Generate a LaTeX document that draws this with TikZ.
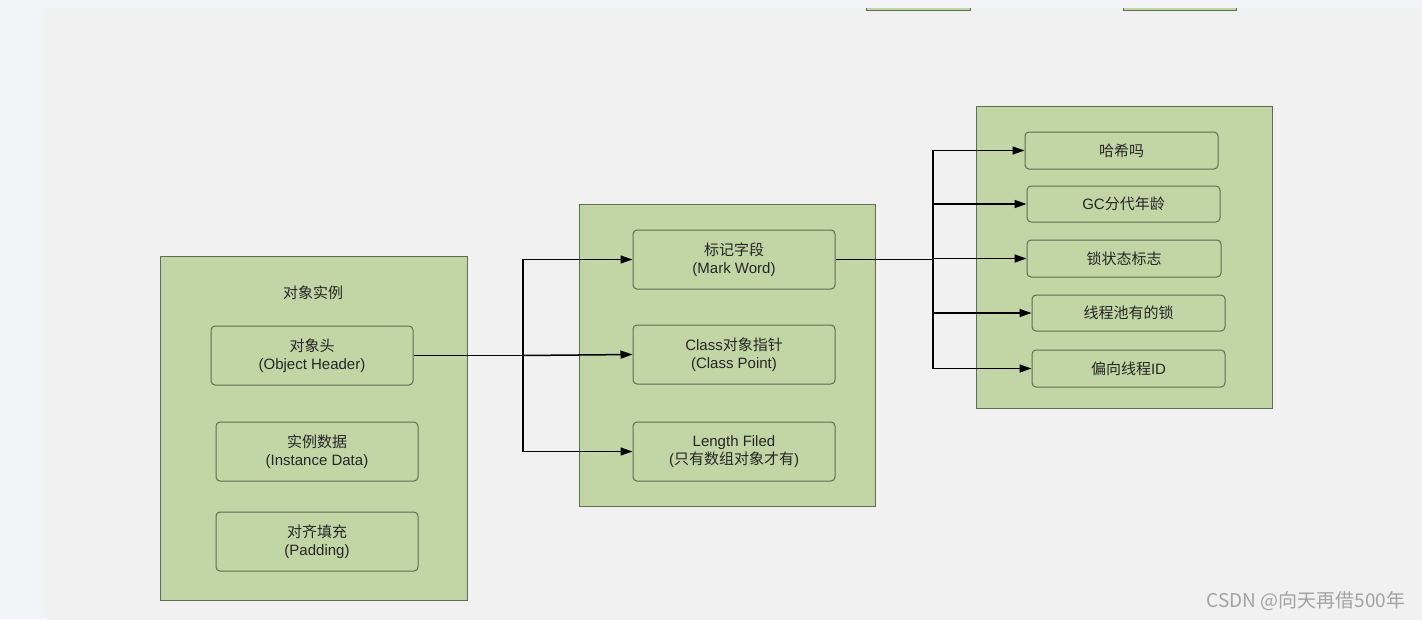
\documentclass[tikz,border=0pt]{standalone}
\usepackage{fontspec}
\setmainfont{Liberation Sans}
\newfontfamily\cjk{Noto Sans CJK SC}
\usetikzlibrary{arrows.meta}
\definecolor{outerbg}{HTML}{F2F3F7}
\definecolor{panelbg}{HTML}{F1F1F1}
\definecolor{gfill}{HTML}{C1D5A5}
\definecolor{gline}{HTML}{5E6E50}
\definecolor{wm}{HTML}{A3A3A3}
\tikzset{
  container/.style={draw=gline, fill=gfill, line width=1pt, inner sep=0pt},
  item/.style={draw=gline, fill=gfill, line width=1pt, rounded corners=4pt, inner sep=0pt,
    align=center, font=\fontsize{15}{18}\selectfont, text=black!85},
  arr/.style={line width=1.5pt, -{Triangle[length=12pt,width=8pt]}},
  seg/.style={line width=1.5pt}
}
\begin{document}
\begin{tikzpicture}[x=1pt,y=-1pt]
\useasboundingbox (0,0) rectangle (1422,619);
\fill[outerbg] (0,0) rectangle (1422,619);
\fill[panelbg, rounded corners=3pt] (45,8) rectangle (1430,630);
% partial boxes at the top edge
\fill[gfill] (866,8) rectangle (970,10.5);
\draw[gline, line width=1pt] (866,8) -- (866,10.5) -- (970,10.5) -- (970,8);
\fill[gfill] (1123,8) rectangle (1236,10.5);
\draw[gline, line width=1pt] (1123,8) -- (1123,10.5) -- (1236,10.5) -- (1236,8);
% containers
\node[container, minimum width=307pt, minimum height=344pt] (left) at (313.5,428) {};
\node[container, minimum width=296pt, minimum height=302pt] (mid) at (727,355) {};
\node[container, minimum width=296pt, minimum height=302pt] (right) at (1124,257) {};
\node[font=\fontsize{15}{18}\selectfont\cjk, text=black!85] (title) at (313,293) {对象实例};
% left items
\node[item, minimum width=202pt, minimum height=59pt] (oh) at (312,355.5) {{\cjk 对象头}\\(Object Header)};
\node[item, minimum width=202pt, minimum height=59pt] (id) at (317,451.5) {{\cjk 实例数据}\\(Instance Data)};
\node[item, minimum width=202pt, minimum height=59pt] (pd) at (317,541.5) {{\cjk 对齐填充}\\(Padding)};
% middle items
\node[item, minimum width=202pt, minimum height=59pt] (mw) at (734,259.5) {{\cjk 标记字段}\\(Mark Word)};
\node[item, minimum width=202pt, minimum height=59pt] (cp) at (734,354.5) {Class{\cjk 对象指针}\\(Class Point)};
\node[item, minimum width=202pt, minimum height=59pt] (lf) at (734,451.5) {Length Filed\\({\cjk 只有数组对象才有})};
% right items
\node[item, minimum width=193pt, minimum height=37pt] (hs) at (1121.5,150.5) {\cjk 哈希吗};
\node[item, minimum width=193pt, minimum height=36pt] (gc) at (1123.5,204) {GC{\cjk 分代年龄}};
\node[item, minimum width=194pt, minimum height=37pt] (ls) at (1124,258.5) {\cjk 锁状态标志};
\node[item, minimum width=193pt, minimum height=36pt] (tp) at (1128.5,313) {\cjk 线程池有的锁};
\node[item, minimum width=193pt, minimum height=37pt] (bt) at (1128.5,368.5) {{\cjk 偏向线程}ID};
% connectors
\coordinate (j1) at (523,355.5);
\coordinate (j2) at (933,259.5);
\draw[seg] (oh.east) -- (j1);
\draw[arr] (j1) |- (mw.west);
\draw[arr] (j1) -- (cp.west);
\draw[arr] (j1) |- (lf.west);
\draw[seg] (mw.east) -- (j2);
\draw[arr] (j2) |- (hs.west);
\draw[arr] (j2) |- (gc.west);
\draw[arr] (j2) |- (ls.west);
\draw[arr] (j2) |- (tp.west);
\draw[arr] (j2) |- (bt.west);
% watermark
\node[font=\fontsize{19}{21}\selectfont\cjk, text=wm, anchor=east] (wmk) at (1409,601) {CSDN @向天再借500年};
\end{tikzpicture}
\end{document}
